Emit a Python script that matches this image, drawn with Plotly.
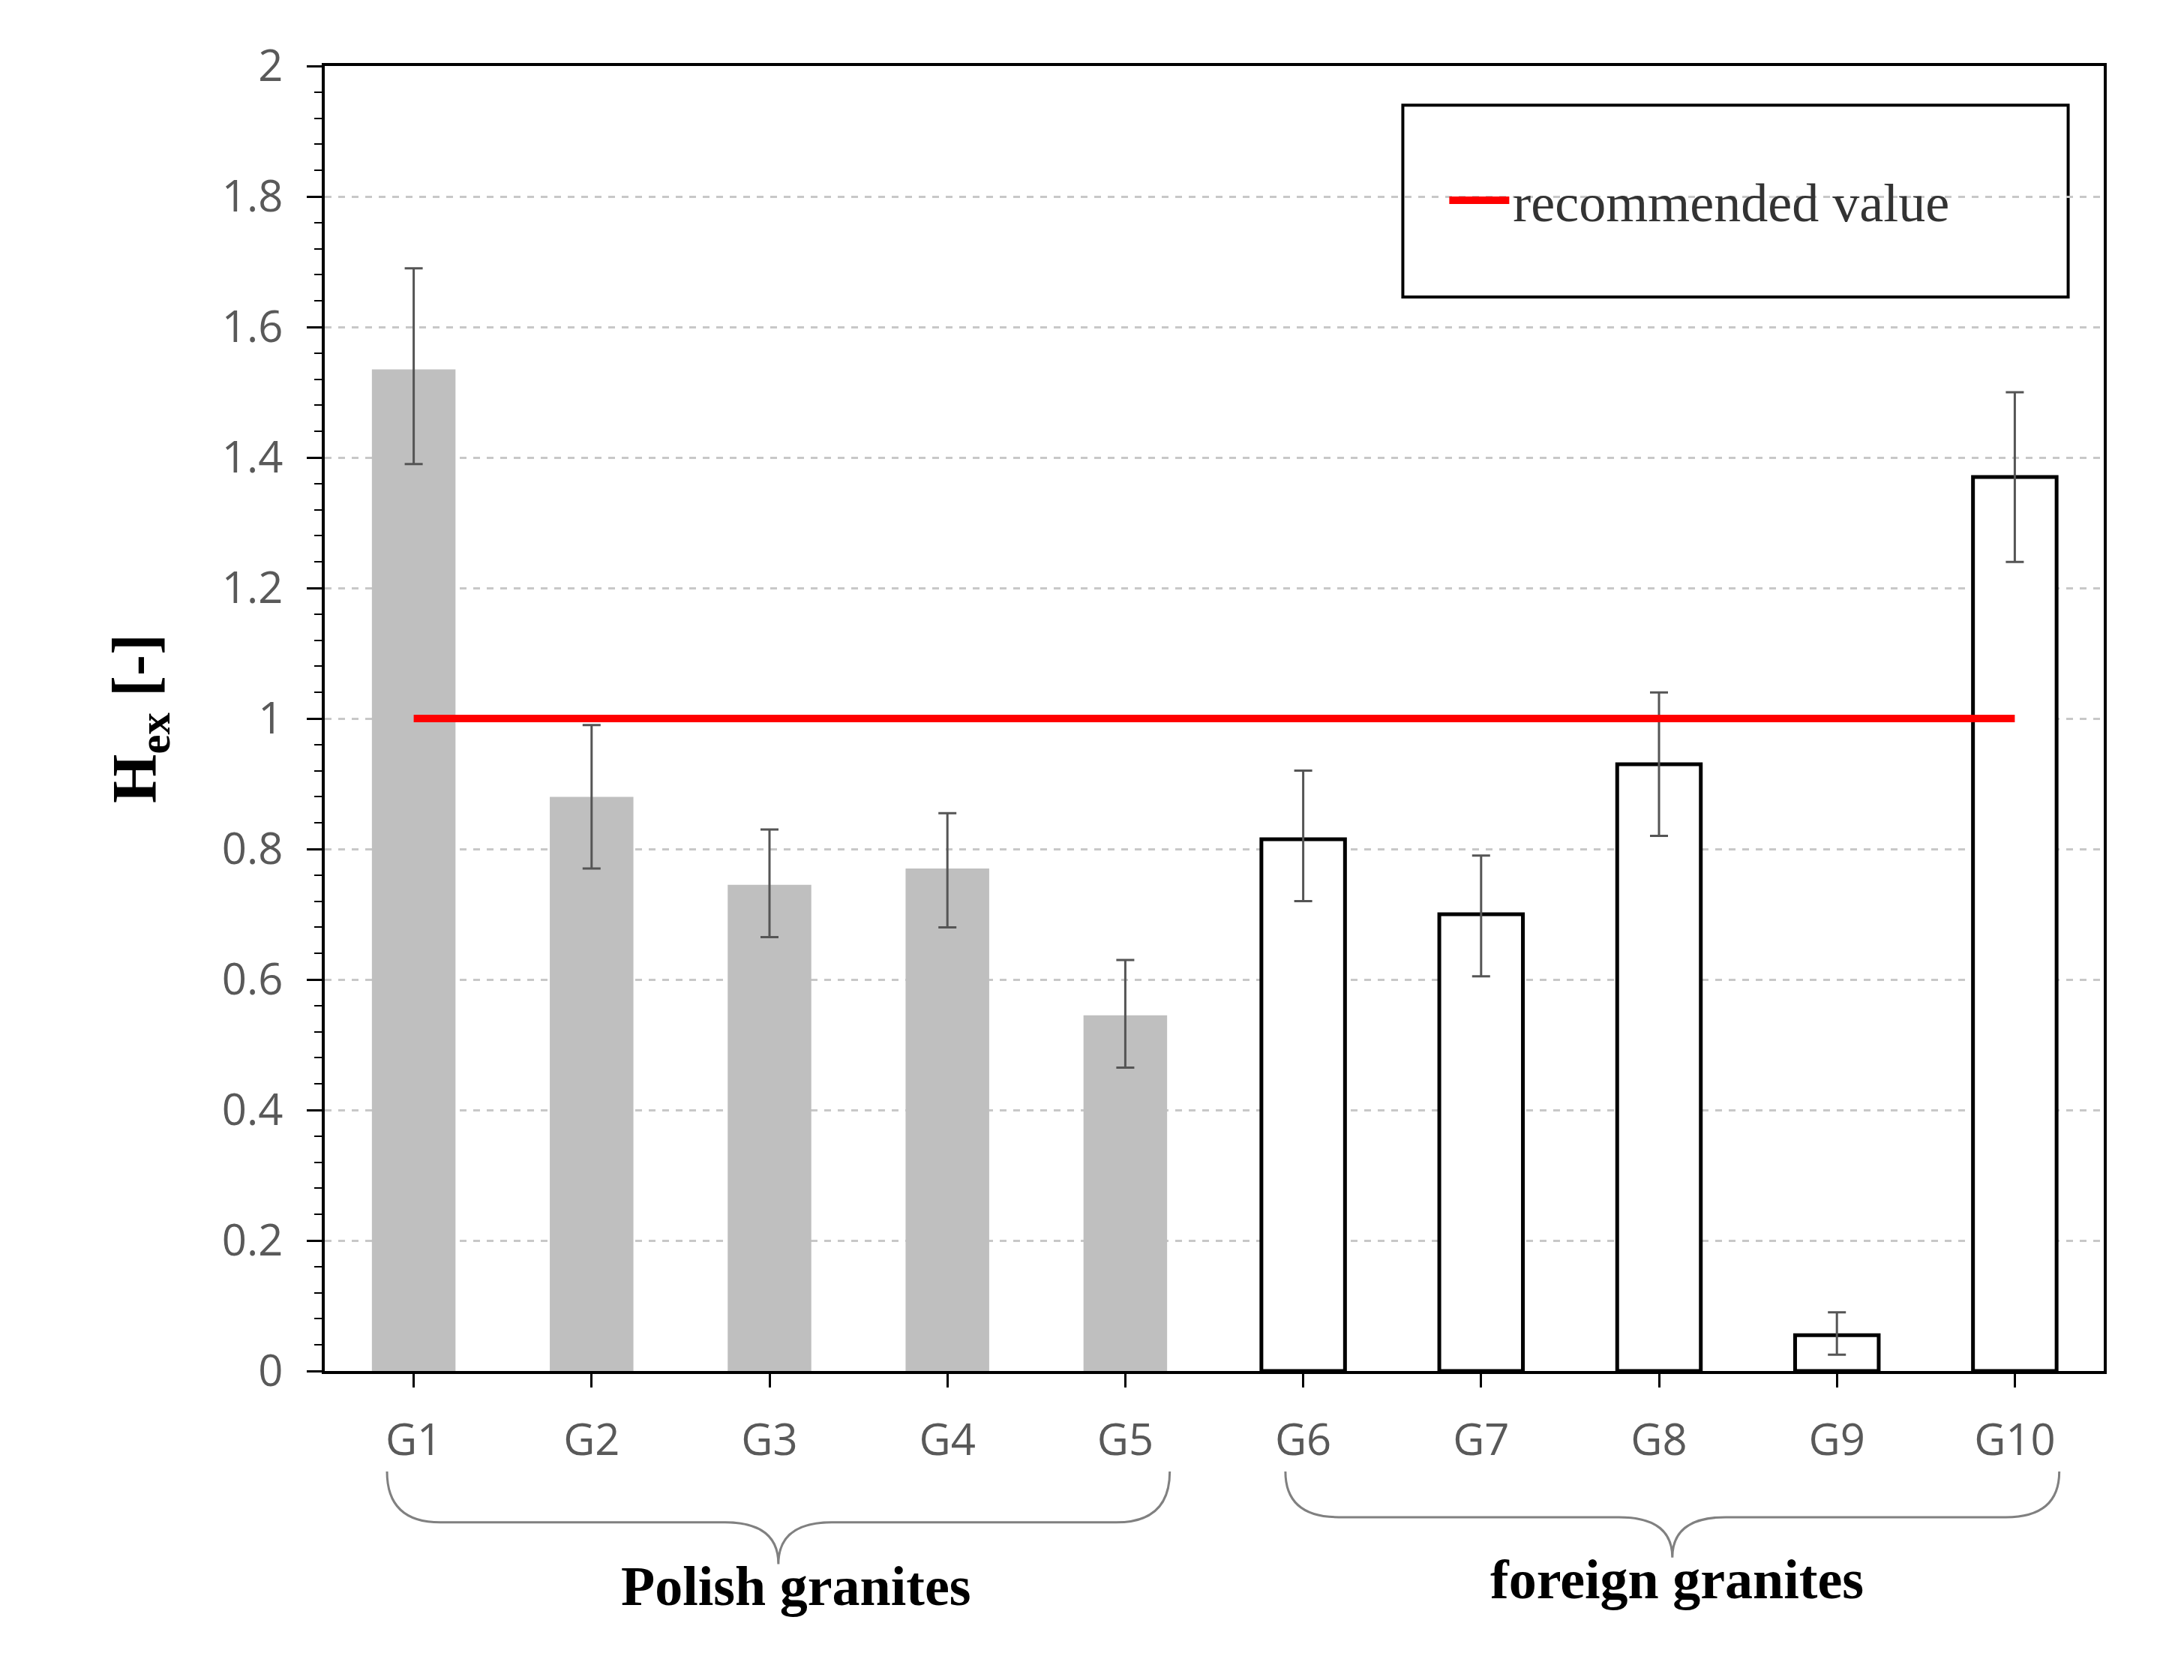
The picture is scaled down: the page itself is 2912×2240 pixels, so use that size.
import plotly.graph_objects as go

labels = ["G1", "G2", "G3", "G4", "G5", "G6", "G7", "G8", "G9", "G10"]
hex_vals = [1.535, 0.88, 0.745, 0.77, 0.545, 0.815, 0.70, 0.93, 0.055, 1.37]
err_hi = [0.155, 0.11, 0.085, 0.085, 0.085, 0.105, 0.09, 0.11, 0.035, 0.13]
err_lo = [0.145, 0.11, 0.08, 0.09, 0.08, 0.095, 0.095, 0.11, 0.03, 0.13]
polish = [0, 1, 2, 3, 4]
foreign = [5, 6, 7, 8, 9]
recommended = 1.0

fig = go.Figure()
# Polish granites - grey filled
fig.add_trace(go.Bar(
    x=polish, y=[hex_vals[i] for i in polish],
    error_y=dict(type="data", symmetric=False,
                 array=[err_hi[i] for i in polish],
                 arrayminus=[err_lo[i] for i in polish],
                 color="#555555", thickness=3, width=12),
    marker=dict(color="#bfbfbf", line=dict(width=0)),
    width=0.47, showlegend=False,
))
# foreign granites - white with black outline
fig.add_trace(go.Bar(
    x=foreign, y=[hex_vals[i] for i in foreign],
    error_y=dict(type="data", symmetric=False,
                 array=[err_hi[i] for i in foreign],
                 arrayminus=[err_lo[i] for i in foreign],
                 color="#555555", thickness=3, width=12),
    marker=dict(color="white", line=dict(color="black", width=5)),
    width=0.47, showlegend=False,
))
# recommended value line
fig.add_trace(go.Scatter(
    x=[0, 9], y=[recommended, recommended], mode="lines",
    line=dict(color="red", width=10), name="recommended value",
))

# legend frame
fig.add_shape(type="rect", xref="paper", yref="paper",
              x0=0.606, x1=0.98, y0=0.823, y1=0.97,
              line=dict(color="black", width=4), fillcolor="white", layer="below")

# braces under the tick labels
def brace(x0, x1, ytop, ymid, ybot):
    xm = (x0 + x1) / 2
    return (f"M {x0},{ytop} Q {x0},{ymid} {x0+0.3},{ymid} L {xm-0.3},{ymid} "
            f"Q {xm},{ymid} {xm},{ybot} Q {xm},{ymid} {xm+0.3},{ymid} "
            f"L {x1-0.3},{ymid} Q {x1},{ymid} {x1},{ytop}")

fig.add_shape(type="path", xref="x", yref="paper",
              path=brace(-0.15, 4.25, -0.077, -0.116, -0.148),
              line=dict(color="#808080", width=3))
fig.add_shape(type="path", xref="x", yref="paper",
              path=brace(4.9, 9.25, -0.077, -0.112, -0.143),
              line=dict(color="#808080", width=3))
fig.add_annotation(x=2.15, y=-0.165, xref="x", yref="paper", yanchor="middle",
                   text="<b>Polish granites</b>", showarrow=False,
                   font=dict(family="Liberation Serif", size=74, color="black"))
fig.add_annotation(x=7.1, y=-0.16, xref="x", yref="paper", yanchor="middle",
                   text="<b>foreign granites</b>", showarrow=False,
                   font=dict(family="Liberation Serif", size=74, color="black"))

fig.update_layout(
    width=2912, height=2240,
    plot_bgcolor="white", paper_bgcolor="white",
    margin=dict(l=425, r=115, t=80, b=420),
    font=dict(family="Open Sans", size=58, color="#595959"),
    bargap=0.5,
    legend=dict(x=0.63, y=0.897, xanchor="left", yanchor="middle",
                borderwidth=0, bgcolor="rgba(0,0,0,0)",
                font=dict(family="Liberation Serif", size=72, color="#333333"),
                itemwidth=80),
    xaxis=dict(range=[-0.5, 9.5], tickmode="array", tickvals=list(range(10)),
               ticktext=labels, showline=True, linecolor="black", linewidth=4,
               mirror=True, ticks="outside", ticklen=18, tickwidth=3,
               tickcolor="black", showgrid=False, zeroline=False,
               ticklabelstandoff=20),
    yaxis=dict(range=[0, 2], dtick=0.2, showline=True, linecolor="black",
               linewidth=4, mirror=True, ticks="outside", ticklen=20,
               tickwidth=3, tickcolor="black", ticklabelstandoff=20,
               minor=dict(dtick=0.04, ticks="outside", ticklen=10,
                          tickcolor="black", tickwidth=2, showgrid=False),
               showgrid=True, gridcolor="#c8c8c8", griddash="dash",
               gridwidth=3, zeroline=False,
               title=dict(text="<b>H<sub>ex</sub> [-]</b>", standoff=60,
                          font=dict(family="Liberation Serif", size=84,
                                    color="black"))),
)

fig.write_html("out.html")
